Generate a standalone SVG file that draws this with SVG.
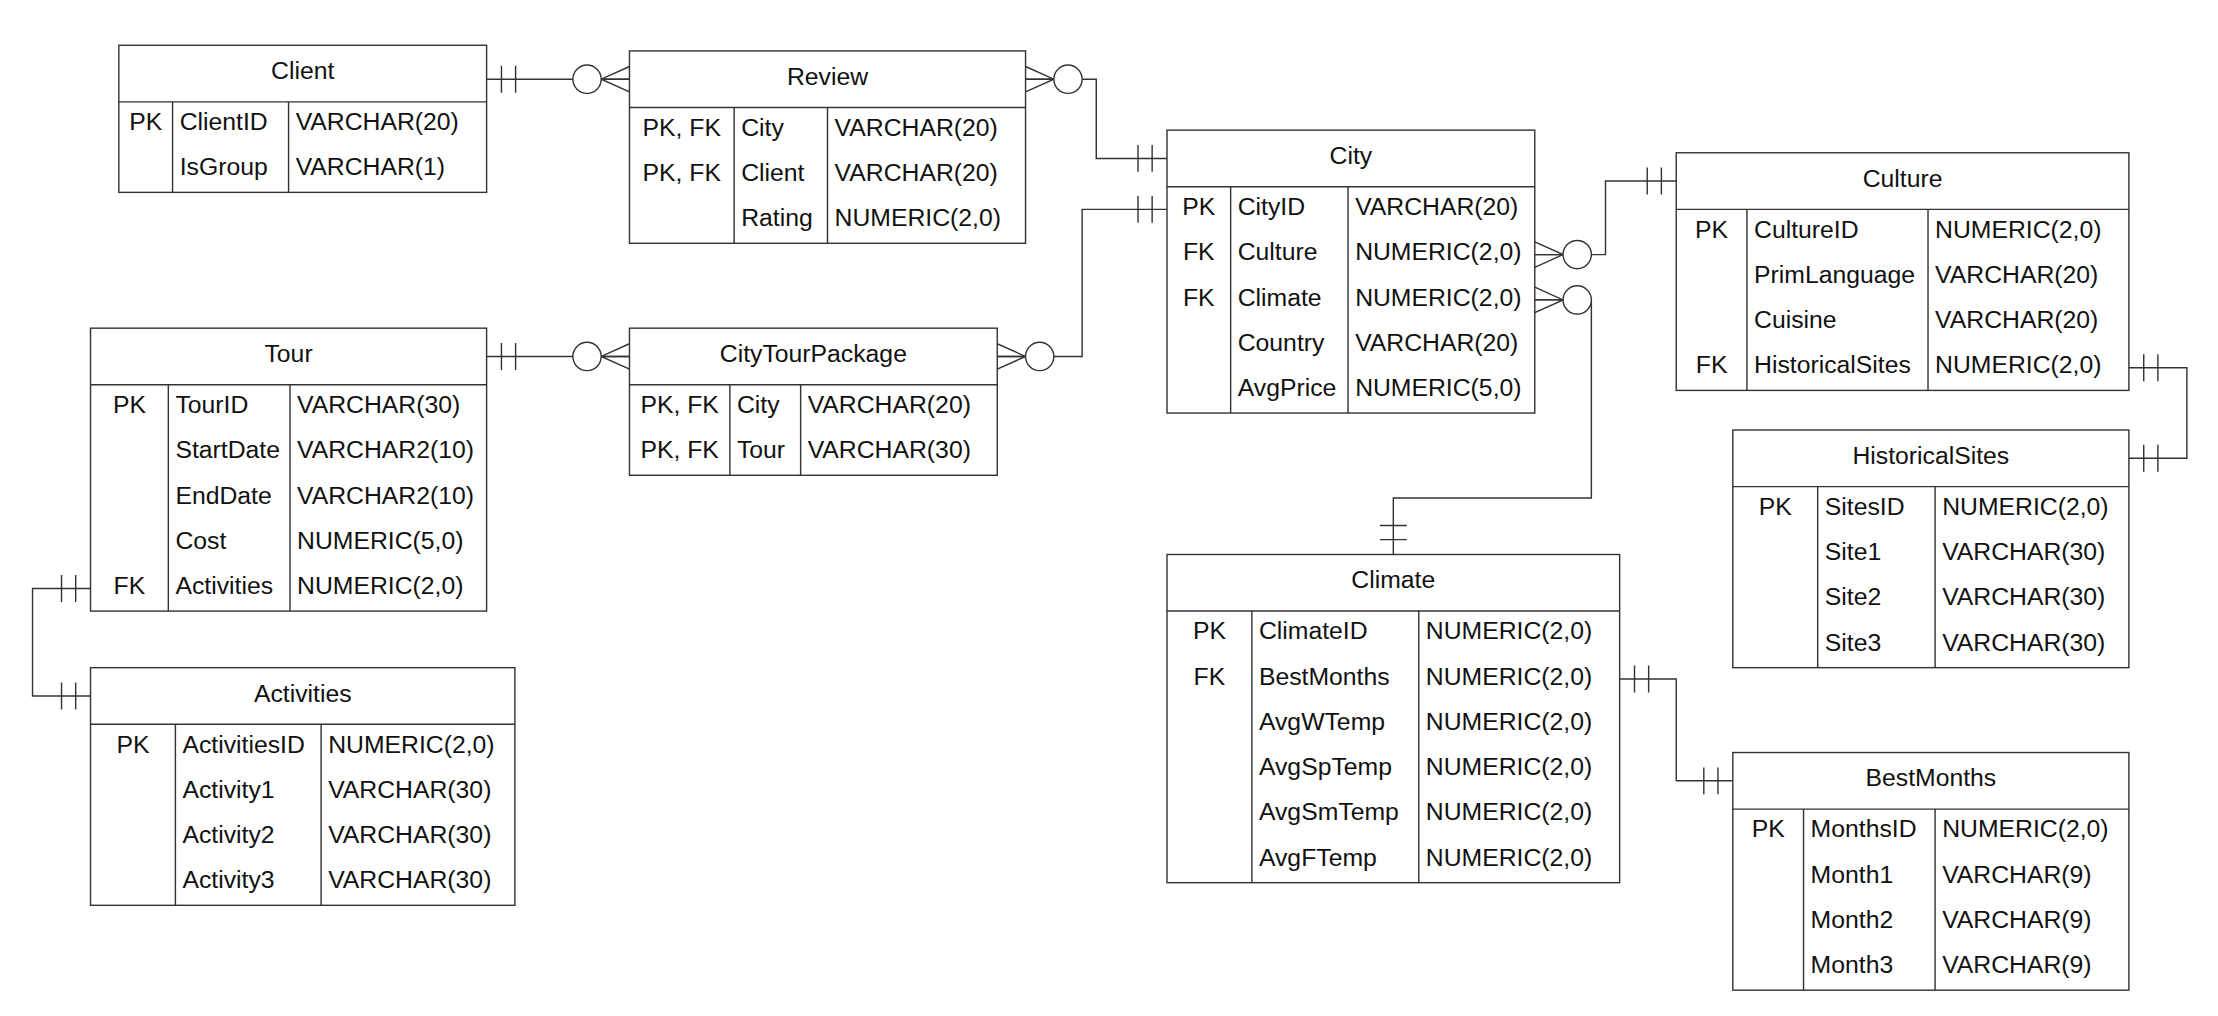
<svg xmlns="http://www.w3.org/2000/svg" width="2218" height="1016" viewBox="0 0 2218 1016">
<style>
.box{fill:#fff;stroke:#333;stroke-width:1}
.ln{fill:none;stroke:#333;stroke-width:1}
text{font-family:"Liberation Sans",Arial,sans-serif;font-size:17.5px;fill:#111}
.c{text-anchor:middle}
</style>
<defs>
<g id="one" class="ln"><path d="M10.5,-9.5V9.5M20.5,-9.5V9.5"/></g>
<g id="zmany" class="ln"><path d="M0,-9L20,0L0,9M0,0H20"/><circle cx="30" cy="0" r="10" fill="#fff"/></g>
</defs>
<rect width="2218" height="1016" fill="#fff"/>
<g transform="scale(1.41454)">
<g id="Client">
<rect class="box" x="84" y="32" width="260" height="104"/>
<path class="ln" d="M84,72H344M122,72V136M204,72V136"/>
<text class="c" x="214" y="56">Client</text>
<text class="c" x="103" y="92">PK</text><text x="127" y="92">ClientID</text><text x="209" y="92">VARCHAR(20)</text>
<text x="127" y="124">IsGroup</text><text x="209" y="124">VARCHAR(1)</text>
</g>
<g id="Review">
<rect class="box" x="445" y="36" width="280" height="136"/>
<path class="ln" d="M445,76H725M519,76V172M585,76V172"/>
<text class="c" x="585" y="60">Review</text>
<text class="c" x="482" y="96">PK, FK</text><text x="524" y="96">City</text><text x="590" y="96">VARCHAR(20)</text>
<text class="c" x="482" y="128">PK, FK</text><text x="524" y="128">Client</text><text x="590" y="128">VARCHAR(20)</text>
<text x="524" y="160">Rating</text><text x="590" y="160">NUMERIC(2,0)</text>
</g>
<g id="City">
<rect class="box" x="825" y="92" width="260" height="200"/>
<path class="ln" d="M825,132H1085M870,132V292M953,132V292"/>
<text class="c" x="955" y="116">City</text>
<text class="c" x="847.5" y="152">PK</text><text x="875" y="152">CityID</text><text x="958" y="152">VARCHAR(20)</text>
<text class="c" x="847.5" y="184">FK</text><text x="875" y="184">Culture</text><text x="958" y="184">NUMERIC(2,0)</text>
<text class="c" x="847.5" y="216">FK</text><text x="875" y="216">Climate</text><text x="958" y="216">NUMERIC(2,0)</text>
<text x="875" y="248">Country</text><text x="958" y="248">VARCHAR(20)</text>
<text x="875" y="280">AvgPrice</text><text x="958" y="280">NUMERIC(5,0)</text>
</g>
<g id="Culture">
<rect class="box" x="1185" y="108" width="320" height="168"/>
<path class="ln" d="M1185,148H1505M1235,148V276M1363,148V276"/>
<text class="c" x="1345" y="132">Culture</text>
<text class="c" x="1210" y="168">PK</text><text x="1240" y="168">CultureID</text><text x="1368" y="168">NUMERIC(2,0)</text>
<text x="1240" y="200">PrimLanguage</text><text x="1368" y="200">VARCHAR(20)</text>
<text x="1240" y="232">Cuisine</text><text x="1368" y="232">VARCHAR(20)</text>
<text class="c" x="1210" y="264">FK</text><text x="1240" y="264">HistoricalSites</text><text x="1368" y="264">NUMERIC(2,0)</text>
</g>
<g id="HistoricalSites">
<rect class="box" x="1225" y="304" width="280" height="168"/>
<path class="ln" d="M1225,344H1505M1285,344V472M1368,344V472"/>
<text class="c" x="1365" y="328">HistoricalSites</text>
<text class="c" x="1255" y="364">PK</text><text x="1290" y="364">SitesID</text><text x="1373" y="364">NUMERIC(2,0)</text>
<text x="1290" y="396">Site1</text><text x="1373" y="396">VARCHAR(30)</text>
<text x="1290" y="428">Site2</text><text x="1373" y="428">VARCHAR(30)</text>
<text x="1290" y="460">Site3</text><text x="1373" y="460">VARCHAR(30)</text>
</g>
<g id="Tour">
<rect class="box" x="64" y="232" width="280" height="200"/>
<path class="ln" d="M64,272H344M119,272V432M205,272V432"/>
<text class="c" x="204" y="256">Tour</text>
<text class="c" x="91.5" y="292">PK</text><text x="124" y="292">TourID</text><text x="210" y="292">VARCHAR(30)</text>
<text x="124" y="324">StartDate</text><text x="210" y="324">VARCHAR2(10)</text>
<text x="124" y="356">EndDate</text><text x="210" y="356">VARCHAR2(10)</text>
<text x="124" y="388">Cost</text><text x="210" y="388">NUMERIC(5,0)</text>
<text class="c" x="91.5" y="420">FK</text><text x="124" y="420">Activities</text><text x="210" y="420">NUMERIC(2,0)</text>
</g>
<g id="CityTourPackage">
<rect class="box" x="445" y="232" width="260" height="104"/>
<path class="ln" d="M445,272H705M516,272V336M566,272V336"/>
<text class="c" x="575" y="256">CityTourPackage</text>
<text class="c" x="480.5" y="292">PK, FK</text><text x="521" y="292">City</text><text x="571" y="292">VARCHAR(20)</text>
<text class="c" x="480.5" y="324">PK, FK</text><text x="521" y="324">Tour</text><text x="571" y="324">VARCHAR(30)</text>
</g>
<g id="Activities">
<rect class="box" x="64" y="472" width="300" height="168"/>
<path class="ln" d="M64,512H364M124,512V640M227,512V640"/>
<text class="c" x="214" y="496">Activities</text>
<text class="c" x="94" y="532">PK</text><text x="129" y="532">ActivitiesID</text><text x="232" y="532">NUMERIC(2,0)</text>
<text x="129" y="564">Activity1</text><text x="232" y="564">VARCHAR(30)</text>
<text x="129" y="596">Activity2</text><text x="232" y="596">VARCHAR(30)</text>
<text x="129" y="628">Activity3</text><text x="232" y="628">VARCHAR(30)</text>
</g>
<g id="Climate">
<rect class="box" x="825" y="392" width="320" height="232"/>
<path class="ln" d="M825,432H1145M885,432V624M1003,432V624"/>
<text class="c" x="985" y="416">Climate</text>
<text class="c" x="855" y="452">PK</text><text x="890" y="452">ClimateID</text><text x="1008" y="452">NUMERIC(2,0)</text>
<text class="c" x="855" y="484">FK</text><text x="890" y="484">BestMonths</text><text x="1008" y="484">NUMERIC(2,0)</text>
<text x="890" y="516">AvgWTemp</text><text x="1008" y="516">NUMERIC(2,0)</text>
<text x="890" y="548">AvgSpTemp</text><text x="1008" y="548">NUMERIC(2,0)</text>
<text x="890" y="580">AvgSmTemp</text><text x="1008" y="580">NUMERIC(2,0)</text>
<text x="890" y="612">AvgFTemp</text><text x="1008" y="612">NUMERIC(2,0)</text>
</g>
<g id="BestMonths">
<rect class="box" x="1225" y="532" width="280" height="168"/>
<path class="ln" d="M1225,572H1505M1275,572V700M1368,572V700"/>
<text class="c" x="1365" y="556">BestMonths</text>
<text class="c" x="1250" y="592">PK</text><text x="1280" y="592">MonthsID</text><text x="1373" y="592">NUMERIC(2,0)</text>
<text x="1280" y="624">Month1</text><text x="1373" y="624">VARCHAR(9)</text>
<text x="1280" y="656">Month2</text><text x="1373" y="656">VARCHAR(9)</text>
<text x="1280" y="688">Month3</text><text x="1373" y="688">VARCHAR(9)</text>
</g>
<g id="connectors">
<path class="ln" d="M344,56H445"/>
<use href="#one" transform="translate(344,56)"/><use href="#zmany" transform="translate(445,56) scale(-1,1)"/>
<path class="ln" d="M725,56H775V112H825"/>
<use href="#zmany" transform="translate(725,56)"/><use href="#one" transform="translate(825,112) scale(-1,1)"/>
<path class="ln" d="M705,252H765V148H825"/>
<use href="#zmany" transform="translate(705,252)"/><use href="#one" transform="translate(825,148) scale(-1,1)"/>
<path class="ln" d="M344,252H445"/>
<use href="#one" transform="translate(344,252)"/><use href="#zmany" transform="translate(445,252) scale(-1,1)"/>
<path class="ln" d="M64,416H23V492H64"/>
<use href="#one" transform="translate(64,416) scale(-1,1)"/><use href="#one" transform="translate(64,492) scale(-1,1)"/>
<path class="ln" d="M1085,180H1135V128H1185"/>
<use href="#zmany" transform="translate(1085,180)"/><use href="#one" transform="translate(1185,128) scale(-1,1)"/>
<path class="ln" d="M1085,212H1125V352H985V392"/>
<use href="#zmany" transform="translate(1085,212)"/><use href="#one" transform="translate(985,392) rotate(-90)"/>
<path class="ln" d="M1505,260H1546V324H1505"/>
<use href="#one" transform="translate(1505,260)"/><use href="#one" transform="translate(1505,324)"/>
<path class="ln" d="M1145,480H1185V552H1225"/>
<use href="#one" transform="translate(1145,480)"/><use href="#one" transform="translate(1225,552) scale(-1,1)"/>
</g>
</g>
</svg>
